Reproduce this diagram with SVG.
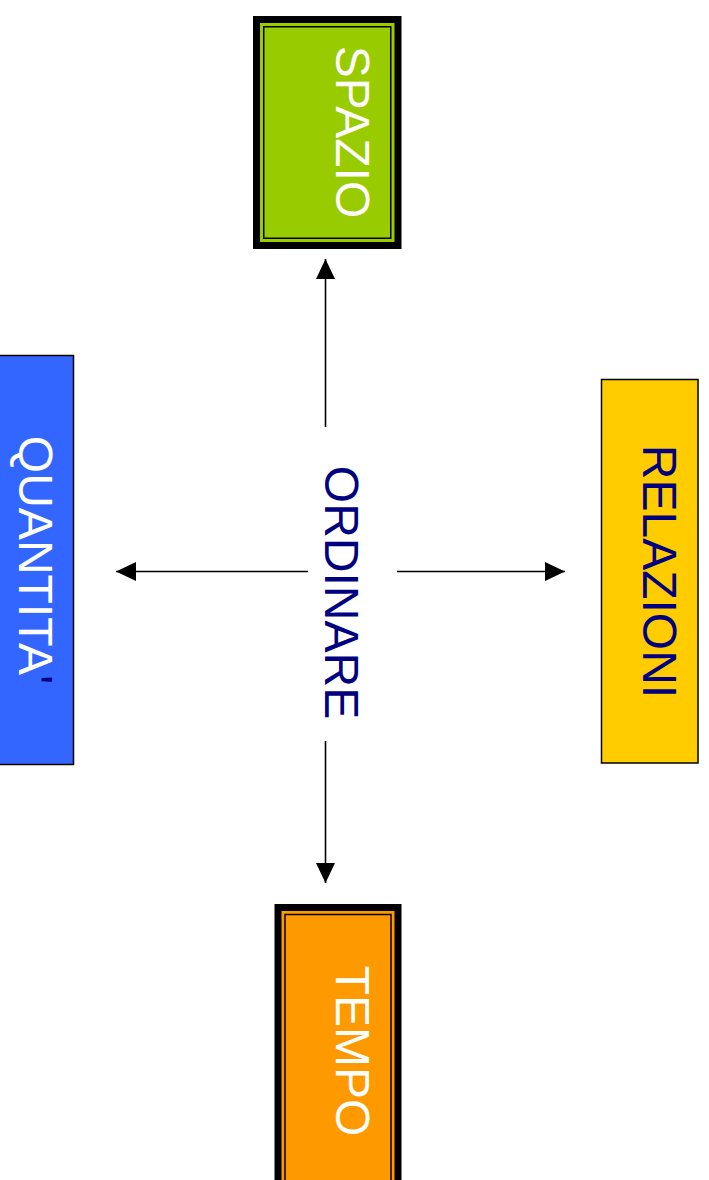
<svg xmlns="http://www.w3.org/2000/svg" width="709" height="1180" viewBox="0 0 709 1180">
  <style>
    .lbl { font-family: "Liberation Sans", Arial, sans-serif; font-size: 48px; text-anchor: middle; }
    .white { fill: #FFFFFF; }
    .navy { fill: #000080; }
    .conn { stroke: #000000; stroke-width: 1.6; fill: none; }
    .frame { fill: none; stroke: #000000; stroke-width: 1.5; }
  </style>
  <defs>
    <marker id="arrow" markerUnits="userSpaceOnUse" markerWidth="20" markerHeight="20" viewBox="0 0 20 20" refX="20" refY="10" orient="auto">
      <path d="M0,0.5 L20,10 L0,19.5 Z" fill="#000000"/>
    </marker>
  </defs>

  <rect width="709" height="1180" fill="#FFFFFF"/>

  <!-- connectors radiating from the centre label -->
  <g id="connectors">
    <line class="conn" x1="325.5" y1="427" x2="325.5" y2="259" marker-end="url(#arrow)"/>
    <line class="conn" x1="325.5" y1="741" x2="325.5" y2="883" marker-end="url(#arrow)"/>
    <line class="conn" x1="308" y1="571.5" x2="116" y2="571.5" marker-end="url(#arrow)"/>
    <line class="conn" x1="397" y1="571.5" x2="565" y2="571.5" marker-end="url(#arrow)"/>
  </g>

  <!-- top node: thick-thin framed green box -->
  <g id="node-spazio">
    <rect x="253" y="16" width="148.5" height="233" fill="#000000"/>
    <rect x="260" y="23" width="134.5" height="219" fill="#99CC00"/>
    <rect class="frame" x="263.75" y="26.75" width="127" height="211.5"/>
    <text class="lbl white" transform="translate(336,132) rotate(90)">SPAZIO</text>
  </g>

  <!-- bottom node: thick-thin framed orange box -->
  <g id="node-tempo">
    <rect x="274.5" y="904" width="127" height="290" fill="#000000"/>
    <rect x="281.5" y="911" width="113" height="290" fill="#FF9900"/>
    <rect class="frame" x="285" y="914.5" width="106" height="290"/>
    <text class="lbl white" transform="translate(336,1051) rotate(90)">TEMPO</text>
  </g>

  <!-- left node -->
  <g id="node-quantita">
    <rect x="-2" y="355.5" width="75.5" height="409" fill="#3366FF" stroke="#000000" stroke-width="1.5"/>
    <text class="lbl white" transform="translate(19,560) rotate(90)">QUANTITA<tspan class="navy">'</tspan></text>
  </g>

  <!-- right node -->
  <g id="node-relazioni">
    <rect x="601.5" y="379.5" width="96.5" height="383.5" fill="#FFCC00" stroke="#000000" stroke-width="1.5"/>
    <text class="lbl navy" transform="translate(643,571.5) rotate(90)">RELAZIONI</text>
  </g>

  <!-- centre label -->
  <g id="node-ordinare">
    <text class="lbl navy" transform="translate(325,592.5) rotate(90)">ORDINARE</text>
  </g>
</svg>
